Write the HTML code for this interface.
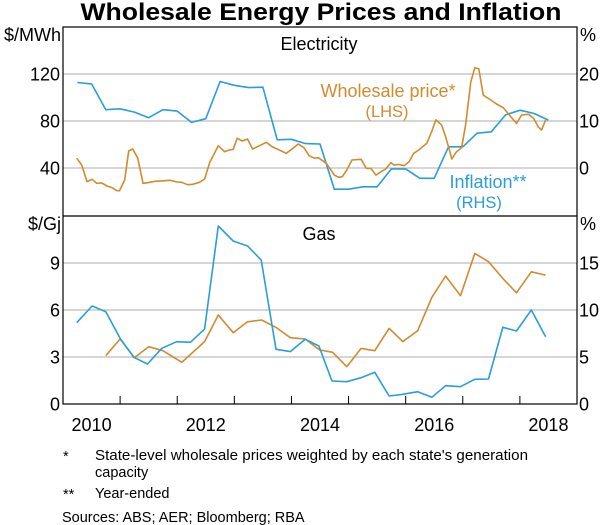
<!DOCTYPE html>
<html><head><meta charset="utf-8"><style>
body{margin:0;background:#fff;}
svg{display:block;font-family:"Liberation Sans",Arial,sans-serif;}
</style></head><body>
<svg id="c" width="600" height="525" viewBox="0 0 600 525">
<text x="321" y="20" text-anchor="middle" font-size="24" font-weight="bold" textLength="481" lengthAdjust="spacingAndGlyphs">Wholesale Energy Prices and Inflation</text>
<g id="grid"></g>
<g id="series"></g>
<rect x="63" y="27" width="514" height="377" fill="none" stroke="#000" stroke-width="1.2"/>
<line x1="63" y1="216" x2="577" y2="216" stroke="#000" stroke-width="1.2"/>
<g id="axes" font-size="18"></g>
<text x="319" y="50" text-anchor="middle" font-size="18">Electricity</text>
<text x="319" y="240" text-anchor="middle" font-size="18">Gas</text>
<text x="61" y="41" text-anchor="end" font-size="18">$/MWh</text>
<text x="580" y="41" font-size="18">%</text>
<text x="61" y="230" text-anchor="end" font-size="18">$/Gj</text>
<text x="580" y="230" font-size="18">%</text>
<text x="388" y="97" text-anchor="middle" font-size="18" fill="#D38B2D">Wholesale price*</text>
<text x="387" y="117" text-anchor="middle" font-size="16.5" fill="#D38B2D">(LHS)</text>
<text x="488" y="188" text-anchor="middle" font-size="18" fill="#2A9EDB">Inflation**</text>
<text x="479" y="208" text-anchor="middle" font-size="16.5" fill="#2A9EDB">(RHS)</text>
<g font-size="14.5">
<text x="63" y="461">*</text>
<text x="95" y="460" textLength="433" lengthAdjust="spacingAndGlyphs">State-level wholesale prices weighted by each state's generation</text>
<text x="95" y="477">capacity</text>
<text x="63" y="499">**</text>
<text x="95" y="498">Year-ended</text>
<text x="62" y="522">Sources: ABS; AER; Bloomberg; RBA</text>
</g>
</svg>
<script>
const elecInflDates=[2010.25,2010.5,2010.75,2011.0,2011.25,2011.5,2011.75,2012.0,2012.25,2012.5,2012.75,2013.0,2013.25,2013.5,2013.75,2014.0,2014.25,2014.5,2014.75,2015.0,2015.25,2015.5,2015.75,2016.0,2016.25,2016.5,2016.75,2017.0,2017.25,2017.5,2017.75,2018.0,2018.25,2018.5];
const elecInfl=[18.2,17.9,12.4,12.6,11.9,10.7,12.4,12.1,9.7,10.5,18.4,17.6,17.1,17.2,6.0,6.1,5.2,5.1,-4.5,-4.5,-4.0,-4.0,-0.2,-0.2,-2.2,-2.2,4.5,4.5,7.4,7.7,11.3,12.3,11.6,10.2];
const elecPriceDates=[2010.24,2010.33,2010.42,2010.51,2010.59,2010.68,2010.77,2010.86,2010.94,2010.99,2011.08,2011.15,2011.22,2011.31,2011.40,2011.48,2011.61,2011.73,2011.87,2012.0,2012.08,2012.18,2012.27,2012.39,2012.48,2012.57,2012.72,2012.83,2012.91,2012.98,2013.05,2013.14,2013.23,2013.32,2013.44,2013.56,2013.66,2013.91,2014.01,2014.12,2014.22,2014.31,2014.40,2014.47,2014.61,2014.75,2014.83,2014.89,2014.97,2015.06,2015.22,2015.31,2015.39,2015.48,2015.57,2015.65,2015.74,2015.79,2015.88,2015.97,2016.06,2016.14,2016.23,2016.32,2016.37,2016.46,2016.53,2016.63,2016.70,2016.81,2016.89,2016.98,2017.05,2017.14,2017.21,2017.28,2017.36,2017.49,2017.59,2017.71,2017.84,2017.94,2018.03,2018.15,2018.24,2018.32,2018.38,2018.45];
const elecPrice=[48.3,42.5,28.4,30.4,27,27.2,24.7,23.2,20.7,20.7,29.8,54.5,56.2,48.3,27,27.5,28.7,29,29.5,28.1,27.8,25.8,26.1,27.8,30.6,44.9,59,53.9,55.3,55.9,65.3,63,64.7,56.2,59,61.9,58.2,52.5,56.2,60.4,57.3,50.5,48.3,48.8,44,34,32.1,32.6,38.3,46.8,47.4,39.7,39.7,34,36.9,39.1,44.5,42.6,43.1,42,45.4,52.5,55.3,59,61,71.5,80.9,76.6,66.6,47.7,53.9,57.3,76.6,113.4,125.4,124.3,102,97.9,94.5,91.3,83.7,78,85.1,85.7,82.3,75.1,72.3,80.9];
const gasPriceDates=[2010.75,2011.0,2011.25,2011.5,2011.75,2012.08,2012.48,2012.72,2012.98,2013.23,2013.48,2013.73,2013.98,2014.24,2014.49,2014.72,2014.97,2015.22,2015.46,2015.71,2015.95,2016.21,2016.46,2016.70,2016.96,2017.21,2017.45,2017.70,2017.94,2018.20,2018.45];
const gasPrice=[3.08,4.15,2.96,3.66,3.4,2.66,3.98,5.68,4.55,5.25,5.36,4.89,4.23,4.15,3.45,3.3,2.38,3.55,3.4,4.83,3.98,4.68,6.81,8.17,6.91,9.61,9.08,8.02,7.1,8.44,8.23];
const gasInflDates=[2010.24,2010.51,2010.75,2011.0,2011.24,2011.48,2011.73,2011.99,2012.23,2012.48,2012.72,2012.98,2013.23,2013.47,2013.73,2013.98,2014.24,2014.48,2014.71,2014.97,2015.22,2015.46,2015.71,2015.95,2016.21,2016.46,2016.70,2016.96,2017.21,2017.45,2017.70,2017.94,2018.20,2018.45];
const gasInfl=[8.65,10.43,9.82,6.99,4.97,4.26,5.93,6.63,6.56,7.98,18.94,17.34,16.81,15.32,5.82,5.57,6.88,6.17,2.45,2.37,2.8,3.37,0.85,1.03,1.31,0.71,1.95,1.84,2.63,2.66,8.16,7.77,10.0,7.16];
const topLeftTicks=[40,80,120];
const topRightTicks=[0,10,20];
const botLeftTicks=[0,3,6,9];
const botRightTicks=[0,5,10,15];
const yearLabels=[2010,2012,2014,2016,2018];

const X0=63,X1=577,T0=2010,T1=2019;
const x=t=>X0+(t-T0)/(T1-T0)*(X1-X0);
const yTL=v=>215-v*188/160;
const yTR=v=>215-(v+10)*188/40;
const yBL=v=>404-v*188/12;
const yBR=v=>404-v*188/20;
const NS='http://www.w3.org/2000/svg';
function mk(tag,attrs,parent){const e=document.createElementNS(NS,tag);for(const k in attrs)e.setAttribute(k,attrs[k]);parent.appendChild(e);return e;}
const grid=document.getElementById('grid'),ser=document.getElementById('series'),ax=document.getElementById('axes');
topLeftTicks.forEach((v,i)=>{
  const g=mk('line',{x1:X0,x2:X1,y1:yTL(v),y2:yTL(v),stroke:'#bdbdbd','stroke-width':1.2},grid);
  
  
  const t=mk('text',{x:60,y:yTL(v)+6.5,'text-anchor':'end'},ax);t.textContent=v;
  
  
  const r=mk('text',{x:579,y:yTR(topRightTicks[i])+6.5},ax);r.textContent=topRightTicks[i];
  
  
});
botLeftTicks.forEach((v,i)=>{
  if(v>0){const g=mk('line',{x1:X0,x2:X1,y1:yBL(v),y2:yBL(v),stroke:'#bdbdbd','stroke-width':1.2},grid);
  
  }
  const t=mk('text',{x:60,y:yBL(v)+6.5,'text-anchor':'end'},ax);t.textContent=v;
  
  
  const r=mk('text',{x:579,y:yBR(botRightTicks[i])+6.5},ax);r.textContent=botRightTicks[i];
  
  
});
for(let yr=2011;yr<=2018;yr++){
  const l=mk('line',{x1:x(yr),x2:x(yr),y1:404,y2:396,stroke:'#000','stroke-width':1},ax);
  
  
}
yearLabels.forEach(yr=>{
  const t=mk('text',{x:x(yr+0.5),y:431,'text-anchor':'middle'},ax);t.textContent=yr;
  
  
});
function line(dates,vals,yf,color,name){
  const d=dates.map((t,i)=>(i?'L':'M')+x(t).toFixed(1)+' '+yf(vals[i]).toFixed(1)).join('');
  const p=mk('path',{d:d,fill:'none',stroke:color,'stroke-width':1.6,'stroke-linejoin':'round'},ser);
  
  
}
const OR='#D38B2D',BL='#2A9EDB';
line(elecInflDates,elecInfl,yTR,BL,'electricity-inflation-line');
line(elecPriceDates,elecPrice,yTL,OR,'electricity-wholesale-price-line');
line(gasPriceDates,gasPrice,yBL,OR,'gas-wholesale-price-line');
line(gasInflDates,gasInfl,yBR,BL,'gas-inflation-line');
</script>
</body></html>
